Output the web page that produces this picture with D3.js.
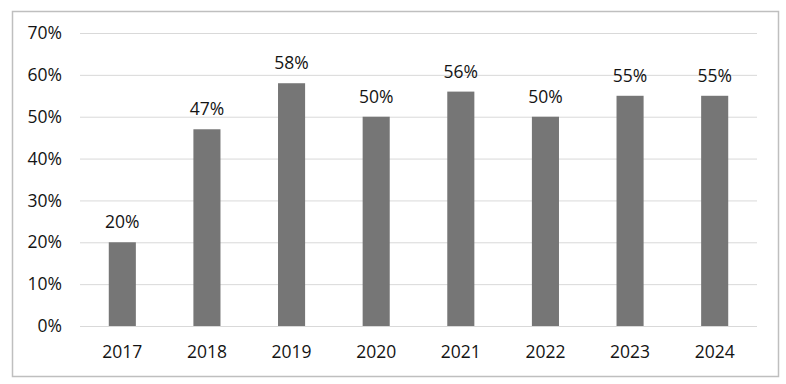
<!DOCTYPE html>
<html lang="en">
<head>
    <meta charset="UTF-8">
    <title>Yearly share</title>
    <style>
        body {
            margin: 0;
            padding: 0;
            background-color: #ffffff;
            font-family: 'Open Sans', sans-serif;
        }
        .grid line {
            stroke: #d9d9d9;
            stroke-width: 1px;
        }
        .tick text {
            font-size: 17.5px;
            fill: #141414;
        }
        .bar-label {
            font-size: 17.5px;
            fill: #141414;
        }
    </style>
</head>
<body>
    <div class="chart"></div>

    <script src="https://d3js.org/d3.v7.min.js"></script>
    <script>
        const years = ["2017", "2018", "2019", "2020", "2021", "2022", "2023", "2024"];
        const shares = [0.20, 0.47, 0.58, 0.50, 0.56, 0.50, 0.55, 0.55];
        const yTicks = [0, 0.1, 0.2, 0.3, 0.4, 0.5, 0.6, 0.7];

        const width = 786;
        const height = 384;
        const margin = { top: 33, right: 29, bottom: 58, left: 80 };

        const svg = d3.select('.chart')
            .append('svg')
            .attr('width', width)
            .attr('height', height);

        // outer frame
        svg.append('rect')
            .attr('x', 12.5)
            .attr('y', 11.5)
            .attr('width', 766)
            .attr('height', 365)
            .attr('fill', 'none')
            .attr('stroke', '#bfbfbf')
            .attr('stroke-width', 1.5);

        const x = d3.scaleBand()
            .domain(years)
            .range([margin.left, width - margin.right])
            .paddingInner(0.68)
            .paddingOuter(0.34);

        const y = d3.scaleLinear()
            .domain([0, 0.7])
            .range([height - margin.bottom, margin.top]);

        // gridlines
        svg.append('g')
            .attr('class', 'grid')
            .attr('transform', `translate(${margin.left},0)`)
            .call(d3.axisLeft(y).tickValues(yTicks)
                .tickSize(-(width - margin.left - margin.right))
                .tickFormat(''))
            .call(g => g.select('.domain').remove());

        // y labels
        svg.append('g')
            .attr('transform', `translate(${margin.left - 15},0)`)
            .call(d3.axisLeft(y).tickValues(yTicks).tickSize(0).tickFormat(d3.format('.0%')))
            .call(g => g.select('.domain').remove())
            .selectAll('text')
            .attr('font-family', "'Open Sans', sans-serif");

        svg.selectAll('.bar')
            .data(shares)
            .enter().append('rect')
            .attr('class', 'bar')
            .attr('x', (d, i) => x(years[i]))
            .attr('y', d => y(d))
            .attr('width', x.bandwidth())
            .attr('height', d => y(0) - y(d))
            .attr('fill', '#767676');

        svg.selectAll('.bar-label')
            .data(shares)
            .enter().append('text')
            .attr('class', 'bar-label')
            .attr('x', (d, i) => x(years[i]) + x.bandwidth() / 2)
            .attr('y', d => y(d) - 14)
            .attr('text-anchor', 'middle')
            .text(d => d3.format('.0%')(d));

        // x labels
        svg.append('g')
            .attr('transform', `translate(0,${height - margin.bottom + 17})`)
            .call(d3.axisBottom(x).tickSize(0))
            .call(g => g.select('.domain').remove())
            .selectAll('text')
            .attr('font-family', "'Open Sans', sans-serif");
    </script>
</body>
</html>
